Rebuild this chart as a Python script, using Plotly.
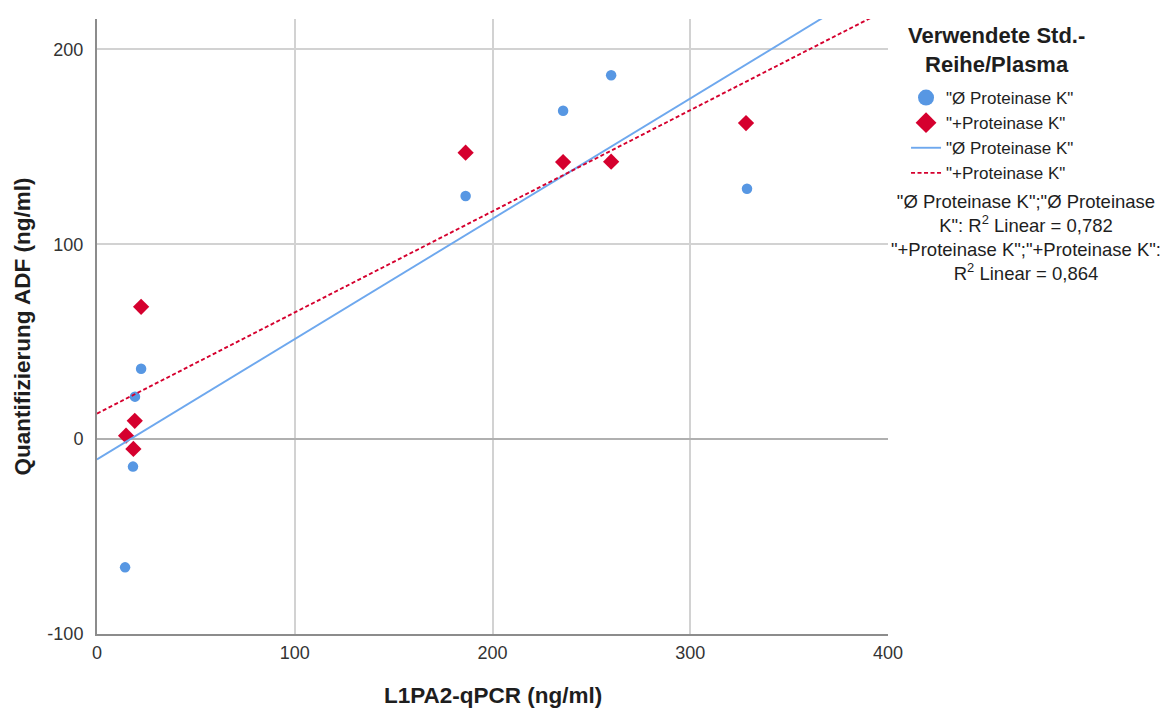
import numpy as np
import plotly.graph_objects as go

# L1PA2-qPCR vs. ADF quantification, per standard series / plasma treatment
x_ohne = [14.2, 18.2, 19.2, 22.3, 186.4, 235.7, 260.0, 328.7]
y_ohne = [-65.8, -14.1, 21.8, 36.1, 124.8, 168.5, 186.7, 128.5]

x_mit = [14.7, 19.1, 18.4, 22.3, 186.4, 235.7, 260.0, 328.2]
y_mit = [1.8, 9.4, -5.0, 67.9, 147.0, 142.2, 142.4, 162.2]

label_ohne = '"Ø Proteinase K"'
label_mit = '"+Proteinase K"'
legend_title = "Verwendete Std.-<br>Reihe/Plasma"

x_ticks = [0, 100, 200, 300, 400]
x_ticktext = ["0", "100", "200", "300", "400"]
y_ticks = [-100, 0, 100, 200]
y_ticktext = ["-100", "0", "100", "200"]
x_range = [0, 400]
y_range = [-100, 215.6]

BLUE = "#5797e3"
BLUE_LINE = "#6ea8ee"
RED = "#d5002e"
TXT = "#1e1e1e"
FONT = "Liberation Sans"
RED_DASH = "4px,2.5px"


def linear_fit(x, y):
    x = np.asarray(x)
    y = np.asarray(y)
    slope, intercept = np.polyfit(x, y, 1)
    r2 = np.corrcoef(x, y)[0, 1] ** 2
    return slope, intercept, r2


s_o, i_o, r2_o = linear_fit(x_ohne, y_ohne)
s_m, i_m, r2_m = linear_fit(x_mit, y_mit)
fit_x = np.array(x_range, dtype=float)

fig = go.Figure()

# data points
fig.add_trace(go.Scatter(
    x=x_ohne, y=y_ohne, mode="markers", name=label_ohne, showlegend=False,
    marker=dict(symbol="circle", size=10.5, color=BLUE),
))
fig.add_trace(go.Scatter(
    x=x_mit, y=y_mit, mode="markers", name=label_mit, showlegend=False,
    marker=dict(symbol="diamond", size=12.5, color=RED),
))
# linear fit lines
fig.add_trace(go.Scatter(
    x=fit_x, y=s_o * fit_x + i_o, mode="lines", name=label_ohne, showlegend=False,
    line=dict(color=BLUE_LINE, width=1.9),
))
fig.add_trace(go.Scatter(
    x=fit_x, y=s_m * fit_x + i_m, mode="lines", name=label_mit, showlegend=False,
    line=dict(color=RED, width=1.9, dash=RED_DASH),
))

# legend entries (larger symbols than the plotted points)
legend_items = [
    dict(mode="markers", name=label_ohne, marker=dict(symbol="circle", size=16, color=BLUE)),
    dict(mode="markers", name=label_mit, marker=dict(symbol="diamond", size=16, color=RED)),
    dict(mode="lines", name=label_ohne, line=dict(color=BLUE_LINE, width=1.9)),
    dict(mode="lines", name=label_mit, line=dict(color=RED, width=1.9, dash=RED_DASH)),
]
for item in legend_items:
    fig.add_trace(go.Scatter(x=[None], y=[None], showlegend=True, hoverinfo="skip", **item))


def de(v):
    return f"{v:.3f}".replace(".", ",")


r2_text = (
    f'"Ø Proteinase K";"Ø Proteinase<br>K": R<sup>2</sup> Linear = {de(r2_o)}<br>'
    f'"+Proteinase K";"+Proteinase K":<br>R<sup>2</sup> Linear = {de(r2_m)}'
)
fig.add_annotation(
    text=r2_text, xref="paper", yref="paper", x=1.1745, y=0.724,
    xanchor="center", yanchor="top", showarrow=False, align="center",
    font=dict(family=FONT, size=18.5, color=TXT),
)

# legend heading
fig.add_annotation(
    text=f"<b>{legend_title}</b>", xref="paper", yref="paper",
    x=1.1378, y=0.9496, xanchor="center", yanchor="middle",
    showarrow=False, align="center",
    font=dict(family=FONT, size=22, color=TXT),
)

# axis titles
fig.add_annotation(
    text="<b>L1PA2-qPCR (ng/ml)</b>", xref="paper", yref="paper",
    x=0.5, y=0, xanchor="center", yanchor="middle", yshift=-61,
    showarrow=False, font=dict(family=FONT, size=22.5, color=TXT),
)
fig.add_annotation(
    text="<b>Quantifizierung ADF (ng/ml)</b>", xref="paper", yref="paper",
    x=0, y=0.5, xanchor="center", yanchor="middle", xshift=-75, textangle=-90,
    showarrow=False, font=dict(family=FONT, size=22.5, color=TXT),
)

axis_common = dict(
    showline=True, linecolor="#8c8c8c", linewidth=2,
    showgrid=True, gridcolor="#d2d2d2", gridwidth=1.5,
    ticks="", automargin=False,
    tickfont=dict(family=FONT, size=18, color="#333333"),
)

fig.update_layout(
    width=1162, height=708,
    margin=dict(l=97, r=274, t=19, b=74),
    plot_bgcolor="white", paper_bgcolor="white",
    font=dict(family=FONT, color=TXT),
    xaxis=dict(range=x_range, tickvals=x_ticks, ticktext=x_ticktext,
               zeroline=False, ticklabelstandoff=1, **axis_common),
    yaxis=dict(range=y_range, tickvals=y_ticks, ticktext=y_ticktext,
               zeroline=True, zerolinecolor="#b0b0b0", zerolinewidth=1.6,
               ticklabelstandoff=8, **axis_common),
    legend=dict(
        x=1.0228, y=0.9008, xanchor="left", yanchor="top",
        bgcolor="rgba(0,0,0,0)",
        font=dict(family=FONT, size=17, color=TXT),
        tracegroupgap=0,
    ),
    showlegend=True,
)

fig.write_html("out.html")
